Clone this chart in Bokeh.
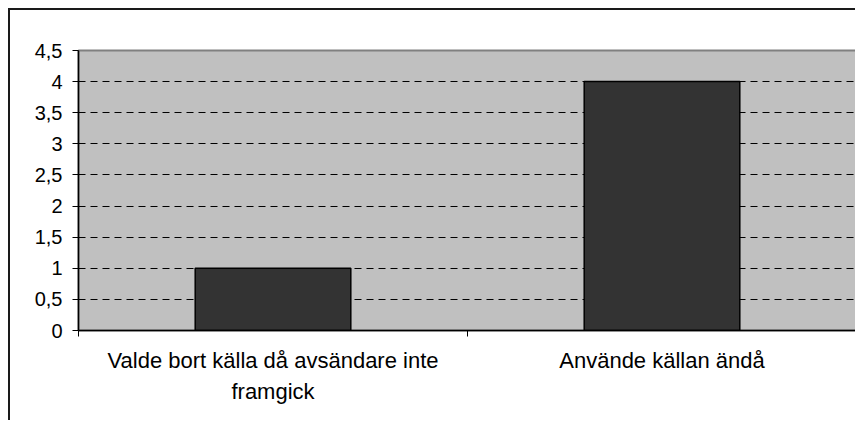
from bokeh.plotting import figure
from bokeh.models import FixedTicker, Range1d
from bokeh.embed import file_html
from bokeh.resources import INLINE

categories = ["Valde bort källa då avsändare inte\nframgick", "Använde källan ändå"]
values = [1, 4]
y_ticks = [0, 0.5, 1, 1.5, 2, 2.5, 3, 3.5, 4, 4.5]
y_tick_labels = ["0", "0,5", "1", "1,5", "2", "2,5", "3", "3,5", "4", "4,5"]

n = len(categories)
centers = [i + 0.5 for i in range(n)]

p = figure(width=847, height=412, output_backend="svg", toolbar_location=None,
           x_range=Range1d(0, n), y_range=Range1d(0, 4.5),
           min_border_left=68, min_border_right=1, min_border_top=40, min_border_bottom=92,
           background_fill_color="#C0C0C0", border_fill_color="white",
           outline_line_color="#808080", outline_line_width=2,
           styles={"border-top": "2px solid #1a1a1a", "border-left": "2px solid #1a1a1a",
                   "margin-left": "8px", "margin-top": "8px"})

p.vbar(x=centers, top=values, width=0.4, fill_color="#333333",
       line_color="black", line_width=1.5)

# y axis
p.yaxis.ticker = FixedTicker(ticks=y_ticks, minor_ticks=[])
p.yaxis.major_label_overrides = dict(zip(y_ticks, y_tick_labels))
p.yaxis.major_tick_in = 0
p.yaxis.major_tick_out = 6
p.yaxis.major_tick_line_color = "black"
p.yaxis.axis_line_color = "black"
p.yaxis.axis_line_width = 1.5
p.yaxis.major_label_standoff = 10
p.yaxis.major_label_text_font = "Liberation Sans"
p.yaxis.major_label_text_font_size = "20px"
p.yaxis.major_label_text_color = "black"

# x axis: labels at centers, tick marks at category boundaries
p.xaxis.ticker = FixedTicker(ticks=centers, minor_ticks=list(range(n + 1)))
p.xaxis.major_label_overrides = dict(zip(centers, categories))
p.xaxis.major_tick_line_color = None
p.xaxis.major_tick_in = 0
p.xaxis.major_tick_out = 0
p.xaxis.minor_tick_in = 0
p.xaxis.minor_tick_out = 6
p.xaxis.minor_tick_line_color = "black"
p.xaxis.axis_line_color = "black"
p.xaxis.axis_line_width = 1.5
p.xaxis.major_label_standoff = 11
p.xaxis.major_label_text_font = "Liberation Sans"
p.xaxis.major_label_text_font_size = "22px"
p.xaxis.major_label_text_color = "black"
p.xaxis.major_label_text_line_height = 1.25

# grid
p.xgrid.visible = False
p.ygrid.ticker = FixedTicker(ticks=y_ticks[1:-1])
p.ygrid.grid_line_color = "black"
p.ygrid.grid_line_dash = "7 5"
p.ygrid.grid_line_width = 1

open("out.html", "w").write(file_html(p, INLINE))
